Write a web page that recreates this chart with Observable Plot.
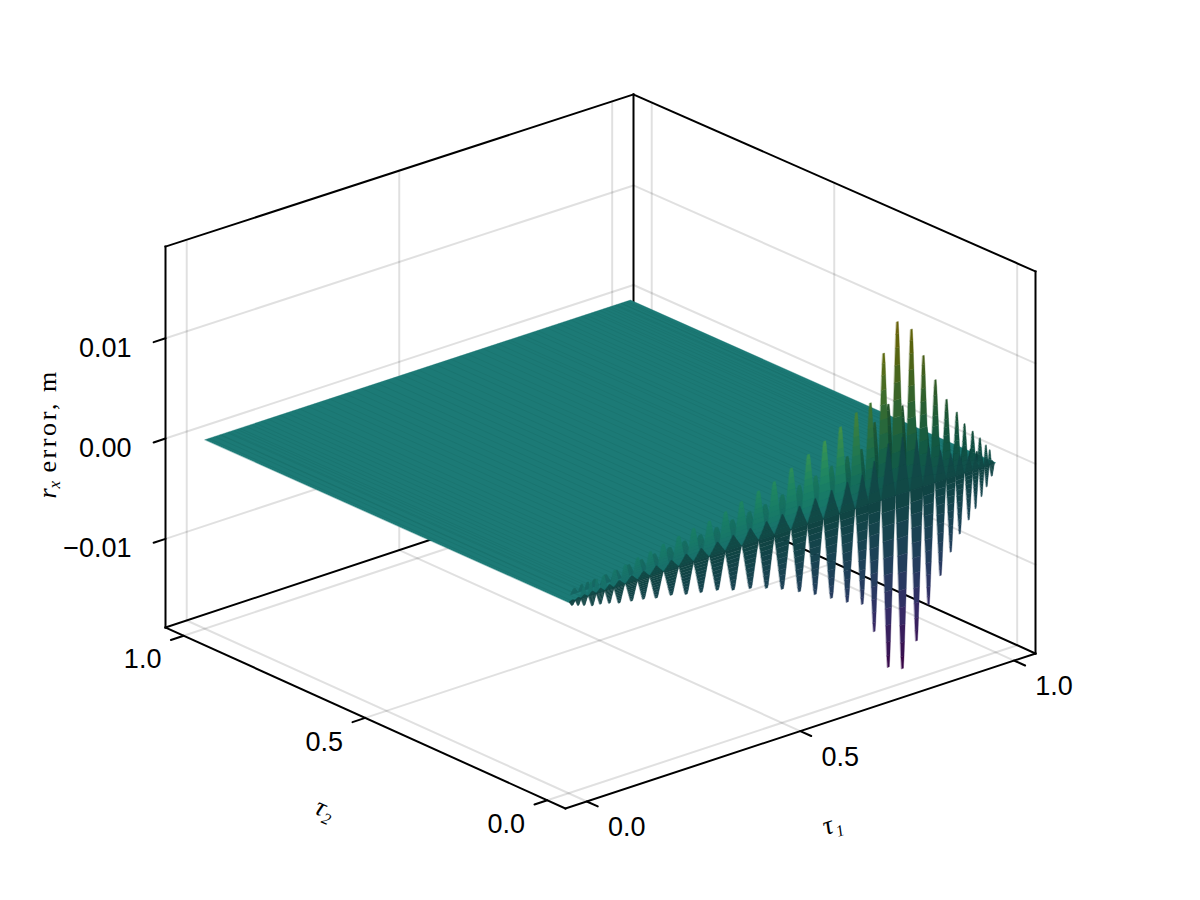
<!DOCTYPE html>
<html><head><meta charset="utf-8">
<style>html,body{margin:0;padding:0;background:#fff;overflow:hidden}.tex text{letter-spacing:.1em}</style>
<script src="https://cdn.jsdelivr.net/npm/d3@7"></script>
<script src="https://cdn.jsdelivr.net/npm/@observablehq/plot@0.6"></script>
</head><body>
<script>
// ---- chart values ----
const tauTicks = [0, 0.5, 1];
const tauTickLabels = ["0.0", "0.5", "1.0"];
const zTicks = [-0.01, 0, 0.01];
const zTickLabels = ["\u22120.01", "0.00", "0.01"];
const tauLimits = [-0.05, 1.05];
const zLimits = [-0.01884, 0.01914];
const upTau = [.035,.052,.066,.082,.108,.133,.162,.192,.222,.258,.293,.330,.368,.405,.445,.482,.522,.562,.600,.637,.674,.707,.738,.770,.803,.831,.859,.885,.909,.927,.946,.963,.977,.986];
const upZ = [.0010,.0013,.0014,.0015,.0017,.0019,.0022,.0024,.0027,.0030,.0033,.0035,.0039,.0044,.0049,.0053,.0061,.0069,.0077,.0086,.0095,.0100,.0145,.0172,.0160,.0130,.0102,.0079,.0063,.0049,.0039,.0030,.0021,.0015];
const downTau = [.009,.023,.037,.056,.075,.096,.119,.148,.176,.206,.241,.276,.311,.349,.386,.426,.464,.501,.541,.578,.616,.653,.688,.716,.749,.782,.815,.843,.871,.895,.916,.937,.953,.967,.979,.991];
const downZ = [.0004,.0006,.0008,.0011,.0012,.0014,.0017,.0019,.0021,.0024,.0026,.0030,.0033,.0036,.0041,.0045,.0050,.0056,.0064,.0072,.0081,.0090,.0097,.0128,.0168,.0174,.0151,.0119,.0094,.0074,.0059,.0048,.0039,.0029,.0021,.0012];
const sheetTau1 = [0, 1, 1, 0];
const sheetTau2 = [0, 0, 1, 1];
const spikeHeight = [0, .08, .16, .25, .35, .45, .55, .65, .75, .85, .93, 1];
const spikeWidth = [1, .93, .85, .77, .69, .61, .53, .45, .37, .29, .22, .13];
const ridgeHeight = [0, .08, .16, .24, .32];
const ridgeWidth = [1, .74, .5, .28, .06];

// ---- camera of the 3-D box ----
const O = [565, 808], A = [1035, 653], B = [165, 627], H = 385;
const pa = -.0021, pb = .00246, qa = .0076, qb = .0108;
const na = t => (t - tauLimits[0]) / (tauLimits[1] - tauLimits[0]);
const nc = z => (z - zLimits[0]) / (zLimits[1] - zLimits[0]);
function project(t1, t2, z) {
  const a = na(t1), b = na(t2), c = nc(z), w = 1 + pa * a + pb * b;
  return [
    (O[0] + (A[0] * (1 + pa) - O[0]) * a + (B[0] * (1 + pb) - O[0]) * b) / w,
    (O[1] + (A[1] * (1 + pa) - O[1]) * a + (B[1] * (1 + pb) - O[1]) * b) / w - H * c / (1 + qa * a + qb * b)
  ];
}
const pt = (t1, t2, z, extra) => { const [x, y] = project(t1, t2, z); return {x, y, ...extra}; };
const [tLo, tHi] = tauLimits, [zLo, zHi] = zLimits;

// ---- colour ----
const zExtent = [-d3.max(downZ), d3.max(upZ)];
const viridis = Plot.scale({color: {type: "linear", scheme: "viridis", domain: zExtent}});
const shaded = (z, k) => { const c = d3.rgb(viridis.apply(z)); return d3.rgb(c.r * k, c.g * k, c.b * k).formatHex(); };

// ---- frame, grid, ticks ----
const seg = (list, p, q, i) => list.push(pt(...p, {id: i + "a"}), pt(...q, {id: i + "a"}));
const grid = [], frame = [], ticks = [];
let n = 0;
for (const t of tauTicks) {
  seg(grid, [t, tLo, zLo], [t, tHi, zLo], n++);
  seg(grid, [tLo, t, zLo], [tHi, t, zLo], n++);
  seg(grid, [t, tHi, zLo], [t, tHi, zHi], n++);
  seg(grid, [tHi, t, zLo], [tHi, t, zHi], n++);
  seg(ticks, [t, tLo, zLo], [t, tLo - .03, zLo], n++);
  seg(ticks, [tLo, t, zLo], [tLo - .03, t, zLo], n++);
}
for (const z of zTicks) {
  seg(grid, [tLo, tHi, z], [tHi, tHi, z], n++);
  seg(grid, [tHi, tLo, z], [tHi, tHi, z], n++);
  seg(ticks, [tLo, tHi, z], [tLo - .028, tHi, z], n++);
}
[[[tLo, tLo, zLo], [tHi, tLo, zLo]], [[tLo, tLo, zLo], [tLo, tHi, zLo]], [[tLo, tHi, zLo], [tHi, tHi, zLo]], [[tHi, tLo, zLo], [tHi, tHi, zLo]],
 [[tLo, tHi, zLo], [tLo, tHi, zHi]], [[tHi, tLo, zLo], [tHi, tLo, zHi]], [[tHi, tHi, zLo], [tHi, tHi, zHi]],
 [[tLo, tHi, zHi], [tHi, tHi, zHi]], [[tHi, tLo, zHi], [tHi, tHi, zHi]]].forEach(([p, q]) => seg(frame, p, q, n++));

// ---- surface ----
const sheet = sheetTau1.map((t, i) => pt(t, sheetTau2[i], 0, {id: "s", color: shaded(0, .84)}));
const streaks = [];
[...upTau, ...downTau].forEach((t, i) => seg(streaks, [t, 0, 0], [t, 1, 0], "l" + i));

function spikes(taus, zs, sign, t2, shadeAt, scale = 1, heights = spikeHeight, widths = spikeWidth) {
  const out = [];
  taus.forEach((t, k) => {
    const prev = k > 0 ? taus[k - 1] : t - (taus[1] - taus[0]);
    const next = k < taus.length - 1 ? taus[k + 1] : t + (t - taus[k - 1]);
    const half = (next - prev) / 4;
    for (let j = 0; j < heights.length - 1; j++) {
      const z0 = sign * zs[k] * scale * heights[j], z1 = sign * zs[k] * scale * heights[j + 1];
      const w0 = half * widths[j], w1 = half * widths[j + 1];
      const id = `${sign}${t2}${scale}-${k}-${j}`;
      const color = shadeAt((z0 + z1) / 2, t, heights[j]);
      out.push(pt(t - w0, t2, z0, {id, color}), pt(t + w0, t2, z0, {id, color}),
               pt(t + w1, t2, z1, {id, color}), pt(t - w1, t2, z1, {id, color}));
    }
  });
  return out;
}
const ramp = d3.scaleLinear().domain([.62, .76]).range([0, 1]).clamp(true);
const litUp = (z, t, h) => { const m = ramp(t); return shaded(z, .76 * (1 - m) + (.56 - .14 * h) * m); };
const darkDown = (z) => shaded(z, .47 + .31 * Math.min(1, Math.abs(z) / .012));
const haloUp = (z, t) => shaded(z, .7 - .28 * ramp(t));
const halo = spikes(upTau, upZ, 1, .025, haloUp, .5);
const ups = spikes(upTau, upZ, 1, 0, litUp);
const downs = spikes(downTau, downZ, -1, 0, darkDown);
const ridges = spikes(downTau, downZ, 1, 0, (z) => shaded(-z * .1, .5), 1, ridgeHeight, ridgeWidth);

// ---- labels ----
const tau1Labels = tauTicks.map((t, i) => pt(t, tLo, zLo, {s: tauTickLabels[i]}));
const tau2Labels = tauTicks.map((t, i) => pt(tLo, t, zLo, {s: tauTickLabels[i]}));
const zLabels = zTicks.map((z, i) => pt(tLo, tHi, z, {s: zTickLabels[i]}));
const sans = {fontFamily: "Liberation Sans", fontSize: 27, fill: "#000", text: "s", x: "x", y: "y"};
const mathFont = {fontFamily: "Liberation Serif", fill: "#000"};
const poly = (rows) => Plot.line(rows, {x: "x", y: "y", z: "id", fill: "color", stroke: "color", strokeWidth: .35, curve: "linear-closed"});
const lineOf = (rows, o) => Plot.line(rows, {x: "x", y: "y", z: "id", ...o});

const chart = Plot.plot({
  width: 1200, height: 900, margin: 0,
  x: {domain: [0, 1200], range: [0, 1200], axis: null},
  y: {domain: [0, 900], range: [0, 900], axis: null},
  color: {type: "identity"},
  style: {background: "#fff"},
  marks: [
    lineOf(grid, {stroke: "#000", strokeOpacity: .12, strokeWidth: 2}),
    lineOf(frame, {stroke: "#000", strokeWidth: 2, strokeLinecap: "square"}),
    lineOf(ticks, {stroke: "#000", strokeWidth: 2}),
    poly(sheet),
    lineOf(streaks, {stroke: "#063f3c", strokeOpacity: .13, strokeWidth: .7}),
    poly(halo),
    poly(ups),
    poly(ridges),
    poly(downs),
    Plot.text(tau1Labels, {...sans, dx: 40, dy: 26}),
    Plot.text(tau2Labels, {...sans, dx: -41, dy: 24}),
    Plot.text(zLabels, {...sans, textAnchor: "end", dx: -34, dy: 10}),
    Plot.text([pt(.5, tLo, zLo)], {x: "x", y: "y", text: () => "\u03c4\u2081", ...mathFont, fontSize: 27, fontStyle: "italic", rotate: -18, dx: 32, dy: 93}),
    Plot.text([pt(tLo, .5, zLo)], {x: "x", y: "y", text: () => "\u03c4\u2082", ...mathFont, fontSize: 27, fontStyle: "italic", rotate: 24, dx: -40, dy: 91}),
    Plot.text([pt(tLo, tHi, 0)], {x: "x", y: "y", text: () => "r", ...mathFont, fontSize: 26, fontStyle: "italic", rotate: -90, textAnchor: "start", lineAnchor: "bottom", dx: -110, dy: 60}),
    Plot.text([pt(tLo, tHi, 0)], {x: "x", y: "y", text: () => "x", ...mathFont, fontSize: 17, fontStyle: "italic", rotate: -90, textAnchor: "start", lineAnchor: "bottom", dx: -106, dy: 50}),
    Plot.text([pt(tLo, tHi, 0)], {x: "x", y: "y", text: () => "error, m", ...mathFont, className: "tex", fontSize: 26, rotate: -90, textAnchor: "start", lineAnchor: "bottom", dx: -110, dy: 34})
  ]
});
document.body.append(chart);
</script>
</body></html>
